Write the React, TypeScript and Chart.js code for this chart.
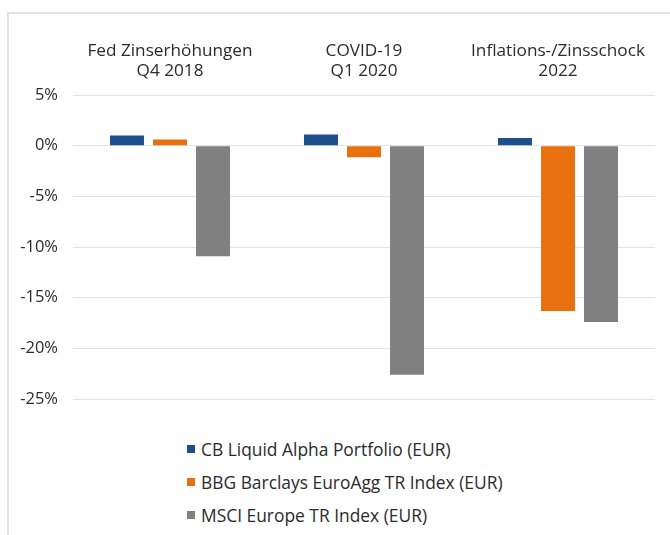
import React, { useEffect, useRef } from "react";
import { Chart, registerables } from "chart.js";

Chart.register(...registerables);

const categories: string[][] = [
  ["Fed Zinserhöhungen", "Q4 2018"],
  ["COVID-19", "Q1 2020"],
  ["Inflations-/Zinsschock", "2022"],
];
const seriesNames = [
  "CB Liquid Alpha Portfolio (EUR)",
  "BBG Barclays EuroAgg TR Index (EUR)",
  "MSCI Europe TR Index (EUR)",
];
const cbLiquidAlpha = [1.0, 1.1, 0.75];
const bbgEuroAgg = [0.6, -1.15, -16.3];
const msciEurope = [-10.9, -22.6, -17.4];
const seriesColors = ["#1f4e8c", "#e8700f", "#808080"];
const yTicks = [5, 0, -5, -10, -15, -20, -25];

const FONT = "'Open Sans', sans-serif";

export default function App() {
  const ref = useRef<HTMLCanvasElement>(null);
  useEffect(() => {
    const datasets = [cbLiquidAlpha, bbgEuroAgg, msciEurope].map((d, i) => ({
      label: seriesNames[i],
      data: d,
      backgroundColor: seriesColors[i],
      categoryPercentage: 0.665,
      barPercentage: 0.79,
    }));
    const chart = new Chart(ref.current!, {
      type: "bar",
      data: { labels: categories, datasets },
      options: {
        animation: false,
        responsive: false,
        maintainAspectRatio: false,
        layout: { padding: { right: 10, left: 0, top: 0, bottom: 0 } },
        plugins: { legend: { display: false }, tooltip: { enabled: false } },
        scales: {
          x: {
            position: "top",
            grid: { display: false, drawTicks: false },
            border: { display: false },
            afterFit: (s: any) => { s.height = 81; },
            ticks: {
              color: "#2b2b2b",
              font: { family: FONT, size: 17.2, lineHeight: 1.16 },
              padding: 14,
              maxRotation: 0,
              autoSkip: false,
            },
          },
          y: {
            min: -25,
            max: 5,
            afterBuildTicks: (s: any) => { s.ticks = yTicks.map((v) => ({ value: v })); },
            afterFit: (s: any) => { s.width = 63; },
            grid: { color: "#e3e3e3", drawTicks: false },
            border: { display: false },
            ticks: { color: "#2b2b2b", font: { family: FONT, size: 16.5 }, padding: 15, callback: (v: any) => v + "%" },
          },
        },
      },
    });
    return () => chart.destroy();
  }, []);
  return (
    <div style={{ position: "fixed", left: 0, top: 0, width: 670, height: 535, background: "#fff", overflow: "hidden" }}>
      <div style={{ position: "absolute", left: 7, top: 12, width: 700, height: 600, borderLeft: "2px solid #e2e2e2", borderTop: "2px solid #e2e2e2" }} />
      <canvas ref={ref} width={655} height={410} style={{ position: "absolute", left: 10, top: 14 }} />
      <div style={{ position: "absolute", left: 187, top: 432.5, fontFamily: FONT, fontSize: 17.4, color: "#2b2b2b" }}>
        {seriesNames.map((n, i) => (
          <div key={n} style={{ height: 33, display: "flex", alignItems: "center", whiteSpace: "nowrap" }}>
            <span style={{ display: "inline-block", width: 8, height: 8, background: seriesColors[i], marginRight: 6 }} />
            {n}
          </div>
        ))}
      </div>
    </div>
  );
}
